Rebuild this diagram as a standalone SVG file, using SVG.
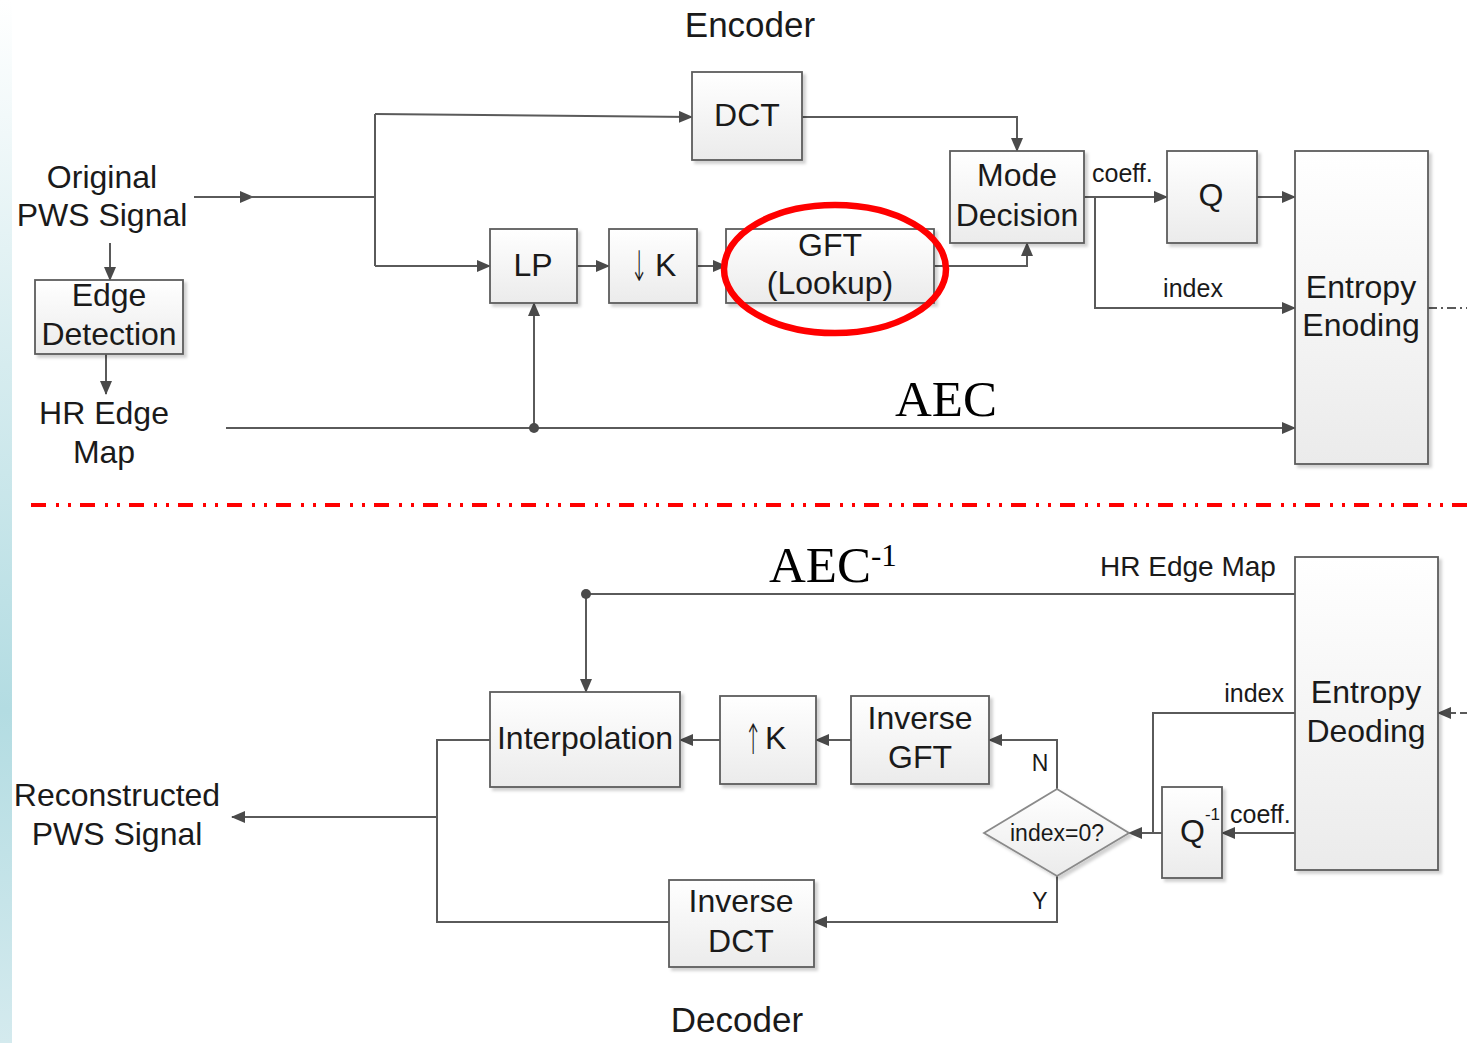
<svg xmlns="http://www.w3.org/2000/svg" width="1467" height="1043" viewBox="0 0 1467 1043">
<defs>
<linearGradient id="boxFill" x1="0" y1="0" x2="0" y2="1"><stop offset="0" stop-color="#ffffff"/><stop offset="1" stop-color="#ebebeb"/></linearGradient>
<linearGradient id="strip" x1="0" y1="0" x2="0" y2="1"><stop offset="0" stop-color="#ffffff"/><stop offset="0.35" stop-color="#d6ecef"/><stop offset="0.68" stop-color="#b3dce2"/><stop offset="1" stop-color="#d4eaee"/></linearGradient>
<filter id="sh" x="-10%" y="-10%" width="130%" height="130%"><feDropShadow dx="3" dy="3" stdDeviation="1.5" flood-color="#000" flood-opacity="0.18"/></filter>
<marker id="ah" markerWidth="14" markerHeight="12" refX="13" refY="6" orient="auto" markerUnits="userSpaceOnUse"><path d="M0,0 L14,6 L0,12 z" fill="#4a4a4a"/></marker>
</defs>
<style>
.box{fill:url(#boxFill);stroke:#5c5c5c;stroke-width:1.8;filter:url(#sh)}
.dia{fill:url(#boxFill);stroke:#8a8a8a;stroke-width:1.8;filter:url(#sh)}
.t{font-family:"Liberation Sans",Arial,sans-serif;font-size:32px;fill:#1a1a1a;text-anchor:middle}
.s{font-size:25px}
.ar{font-family:"DejaVu Sans",sans-serif;font-size:42px;font-weight:200;fill:#1a1a1a;text-anchor:middle}
.c{fill:none;stroke:#5a5a5a;stroke-width:2}
.ca{fill:none;stroke:#5a5a5a;stroke-width:2;marker-end:url(#ah)}
.dot{fill:#4a4a4a}
.serif{font-family:"Liberation Serif","Times New Roman",serif;font-size:51px;fill:#000}
</style>
<rect x="0" y="0" width="1467" height="1043" fill="#ffffff"/>
<rect x="0" y="0" width="12" height="1043" fill="url(#strip)"/>

<text class="t" x="750" y="37" style="font-size:35px">Encoder</text>
<text class="t" x="737" y="1032" style="font-size:35px">Decoder</text>

<g id="connectors">
<path class="ca" d="M194,197 H253"/>
<path class="c" d="M250,197 H375"/>
<path class="c" d="M375,114 V266"/>
<path class="ca" d="M375,114 L692,117"/>
<path class="ca" d="M375,266 H490"/>
<path class="ca" d="M577,266 H609"/>
<path class="ca" d="M697,266 H726"/>
<path class="ca" d="M802,117 H1017 V151"/>
<path class="ca" d="M934,266 H1027 V243"/>
<path class="ca" d="M1084,197 H1167"/>
<path class="ca" d="M1095,197 V308 H1295"/>
<path class="ca" d="M1257,197 H1295"/>
<path class="ca" d="M226,428 H1295"/>
<path class="ca" d="M534,428 V303"/>
<path class="ca" d="M110,243 V280"/>
<path class="ca" d="M106,354 V394"/>
<path class="c" d="M1428,308 H1467" stroke-dasharray="9,4,2,4"/>
<circle class="dot" cx="534" cy="428" r="5"/>

<path class="ca" d="M1295,594 H586 V692"/>
<path class="ca" d="M1057,789 V740 H989"/>
<path class="ca" d="M851,740 H816"/>
<path class="ca" d="M720,740 H680"/>
<path class="c" d="M490,740 H437 V922 H669"/>
<path class="ca" d="M437,817 H232"/>
<path class="ca" d="M1057,876 V922 H814"/>
<path class="c" d="M1295,713 H1153 V833"/>
<path class="ca" d="M1295,833 H1222"/>
<path class="ca" d="M1162,833 H1129"/>
<path class="c" d="M1467,713 H1450" stroke-dasharray="7,4"/>
<path class="ca" d="M1452,713 H1438"/>
<circle class="dot" cx="586" cy="594" r="5"/>
</g>

<path d="M31,505 H1467" fill="none" stroke="#ff0000" stroke-width="4" stroke-dasharray="15,10,3,9,3,9"/>

<g id="in-label">
<text class="t" x="102" y="188">Original</text>
<text class="t" x="102" y="226">PWS Signal</text>
</g>
<g id="edge-detection">
<rect class="box" x="35" y="280" width="148" height="74"/>
<text class="t" x="109" y="306">Edge</text>
<text class="t" x="109" y="345">Detection</text>
</g>
<g id="hr-edge-label">
<text class="t" x="104" y="424">HR Edge</text>
<text class="t" x="104" y="463">Map</text>
</g>
<g id="dct">
<rect class="box" x="692" y="72" width="110" height="88"/>
<text class="t" x="747" y="126">DCT</text>
</g>
<g id="lp">
<rect class="box" x="490" y="229" width="87" height="74"/>
<text class="t" x="533" y="276">LP</text>
</g>
<g id="downk">
<rect class="box" x="609" y="229" width="88" height="74"/>
<text class="ar" transform="translate(639,281) scale(0.5,1)">↓</text>
<text class="t" x="655" y="276" style="text-anchor:start">K</text>
</g>
<g id="gft">
<rect class="box" x="726" y="229" width="208" height="74"/>
<text class="t" x="830" y="256">GFT</text>
<text class="t" x="830" y="294">(Lookup)</text>
<ellipse cx="835" cy="269" rx="111" ry="64" fill="none" stroke="#ff0000" stroke-width="6.5"/>
</g>
<g id="mode-decision">
<rect class="box" x="950" y="151" width="134" height="92"/>
<text class="t" x="1017" y="186">Mode</text>
<text class="t" x="1017" y="226">Decision</text>
</g>
<g id="q">
<rect class="box" x="1167" y="151" width="90" height="92"/>
<text class="t" x="1211" y="206">Q</text>
</g>
<g id="entropy-encoding">
<rect class="box" x="1295" y="151" width="133" height="313"/>
<text class="t" x="1361" y="298">Entropy</text>
<text class="t" x="1361" y="336">Enoding</text>
</g>
<text class="t s" x="1092" y="182" style="text-anchor:start">coeff.</text>
<text class="t s" x="1193" y="297">index</text>
<text class="serif" x="895" y="416">AEC</text>

<text class="serif" x="769" y="582">AEC<tspan style="font-size:31px" dy="-16">-1</tspan></text>
<text class="t" x="1100" y="576" style="font-size:28px;text-anchor:start">HR Edge Map</text>

<g id="entropy-decoding">
<rect class="box" x="1295" y="557" width="143" height="313"/>
<text class="t" x="1366" y="703">Entropy</text>
<text class="t" x="1366" y="742">Deoding</text>
</g>
<text class="t s" x="1284" y="702" style="text-anchor:end">index</text>
<text class="t s" x="1230" y="823" style="text-anchor:start">coeff.</text>
<g id="q-inv">
<rect class="box" x="1162" y="787" width="60" height="91"/>
<text class="t" x="1200" y="842">Q<tspan style="font-size:17px" dy="-22">-1</tspan></text>
</g>
<g id="decision">
<polygon class="dia" points="984,833 1057,789 1129,833 1057,876"/>
<text class="t" x="1057" y="841" style="font-size:23px">index=0?</text>
</g>
<text class="t" x="1040" y="771" style="font-size:23px">N</text>
<text class="t" x="1040" y="909" style="font-size:23px">Y</text>
<g id="inverse-gft">
<rect class="box" x="851" y="696" width="138" height="88"/>
<text class="t" x="920" y="729">Inverse</text>
<text class="t" x="920" y="768">GFT</text>
</g>
<g id="upk">
<rect class="box" x="720" y="696" width="96" height="88"/>
<text class="ar" transform="translate(753,754) scale(0.5,1)">↑</text>
<text class="t" x="765" y="749" style="text-anchor:start">K</text>
</g>
<g id="interpolation">
<rect class="box" x="490" y="692" width="190" height="95"/>
<text class="t" x="585" y="749">Interpolation</text>
</g>
<g id="inverse-dct">
<rect class="box" x="669" y="880" width="145" height="87"/>
<text class="t" x="741" y="912">Inverse</text>
<text class="t" x="741" y="952">DCT</text>
</g>
<g id="out-label">
<text class="t" x="117" y="806">Reconstructed</text>
<text class="t" x="117" y="845">PWS Signal</text>
</g>
</svg>
